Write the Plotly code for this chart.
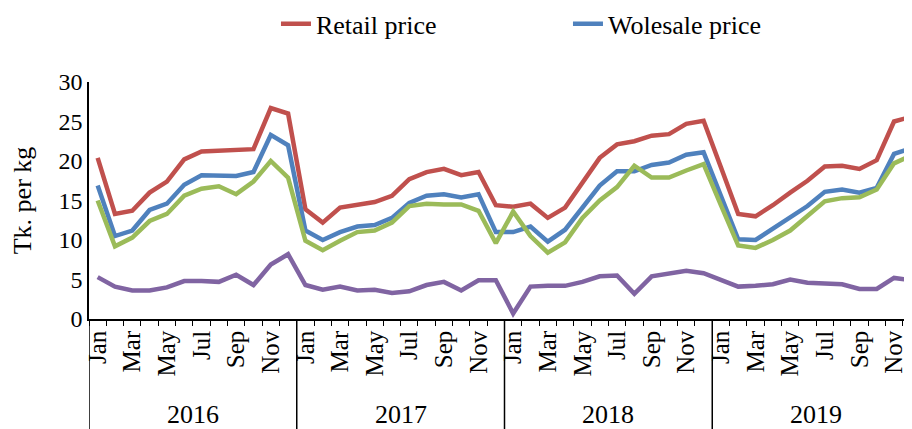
import plotly.graph_objects as go

years = ["2016", "2017", "2018", "2019"]
months = ["Jan", "Feb", "Mar", "Apr", "May", "Jun", "Jul", "Aug", "Sep", "Oct", "Nov", "Dec"]
shown_months = ["Jan", "Mar", "May", "Jul", "Sep", "Nov"]

retail = [20.4, 13.3, 13.7, 16.0, 17.4, 20.2, 21.2, 21.3, 21.3, 21.5, 26.7, 26.0,
          13.9, 12.2, 14.1, 14.5, 14.8, 15.6, 17.7, 18.6, 19.0, 18.2, 18.6, 14.4,
          14.2, 14.6, 12.8, 14.1, 17.2, 20.4, 22.1, 22.5, 23.2, 23.4, 24.7, 25.1,
          19.2, 13.3, 13.0, 14.4, 16.0, 17.5, 19.3, 19.4, 19.0, 20.1, 25.0, 25.6]
wholesale = [16.9, 10.5, 11.2, 13.8, 14.6, 17.0, 18.2, 18.2, 18.1, 18.6, 23.3, 22.0,
             11.2, 10.0, 11.0, 11.7, 11.9, 12.8, 14.7, 15.6, 15.8, 15.4, 15.8, 11.0,
             11.0, 11.7, 9.8, 11.3, 14.1, 16.9, 18.7, 18.7, 19.5, 19.8, 20.8, 21.1,
             15.6, 10.1, 10.0, 11.4, 12.8, 14.3, 16.1, 16.4, 16.0, 16.6, 20.9, 21.6]
farm = [15.0, 9.2, 10.3, 12.4, 13.3, 15.6, 16.5, 16.8, 15.8, 17.4, 20.0, 17.9,
        9.9, 8.7, 9.9, 11.0, 11.2, 12.2, 14.3, 14.6, 14.5, 14.5, 13.7, 9.6,
        13.6, 10.5, 8.4, 9.7, 12.8, 15.0, 16.7, 19.4, 17.9, 17.9, 18.8, 19.6,
        14.4, 9.3, 9.0, 10.0, 11.2, 13.0, 14.9, 15.3, 15.4, 16.4, 19.7, 20.7]
margin = [5.3, 4.1, 3.6, 3.6, 4.0, 4.8, 4.8, 4.7, 5.6, 4.3, 6.9, 8.2,
          4.3, 3.7, 4.1, 3.6, 3.7, 3.3, 3.5, 4.3, 4.7, 3.6, 4.9, 4.9,
          0.7, 4.1, 4.2, 4.2, 4.7, 5.4, 5.5, 3.2, 5.4, 5.7, 6.1, 5.8,
          5.0, 4.1, 4.2, 4.4, 5.0, 4.6, 4.5, 4.4, 3.8, 3.8, 5.2, 4.9]

n = len(years) * len(months)
xs = list(range(n))
tickvals = [i for i in xs if months[i % 12] in shown_months]
ticktext = [months[i % 12] for i in tickvals]

FONT = "Liberation Serif, Times New Roman, serif"
fig = go.Figure()
series = [
    ("Retail price", retail, "#C0504D", True),
    ("Wolesale price", wholesale, "#4F81BD", True),
    ("Farm gate price", farm, "#9BBB59", False),
    ("Margin", margin, "#8064A2", False),
]
for name, vals, col, show in series:
    fig.add_trace(go.Scatter(x=xs, y=vals, mode="lines", name=name,
                             line=dict(color=col, width=4.5), showlegend=show))

for k in range(len(years)):
    fig.add_shape(type="line", xref="x", yref="paper", x0=k * 12 - 0.5, x1=k * 12 - 0.5,
                  y0=0, y1=-0.5, line=dict(color="black", width=1.5))
    fig.add_annotation(x=k * 12 + 5.5, xref="x", y=-0.405, yref="paper", text=years[k],
                       showarrow=False, font=dict(family=FONT, size=26, color="black"),
                       yanchor="middle")

fig.update_layout(
    width=912, height=429,
    margin=dict(l=81, r=0, t=74, b=118, autoexpand=False),
    plot_bgcolor="white", paper_bgcolor="white",
    font=dict(family=FONT, color="black"),
    legend=dict(orientation="h", x=0.225, xanchor="left", y=1.245, yref="paper",
                yanchor="middle", font=dict(family=FONT, size=26),
                entrywidth=247, entrywidthmode="pixels"),
    xaxis=dict(range=[-0.5, 47.5], tickmode="array", tickvals=tickvals, ticktext=ticktext,
               tickangle=-90, ticks="", showgrid=False, zeroline=False, automargin=False,
               showline=True, linecolor="black", linewidth=1.5,
               tickfont=dict(family=FONT, size=25, color="black"),
               minor=dict(tickmode="linear", tick0=-0.5, dtick=1, ticks="outside",
                          ticklen=5, tickcolor="black", tickwidth=1.2, showgrid=False)),
    yaxis=dict(range=[0, 30], tickvals=[0, 5, 10, 15, 20, 25, 30], ticks="",
               showgrid=False, zeroline=False, showline=True, linecolor="black",
               linewidth=1.5, automargin=False,
               tickfont=dict(family=FONT, size=24, color="black"),
               title=dict(text="Tk. per kg", font=dict(family=FONT, size=26), standoff=20)),
)
fig.write_html("out.html")
